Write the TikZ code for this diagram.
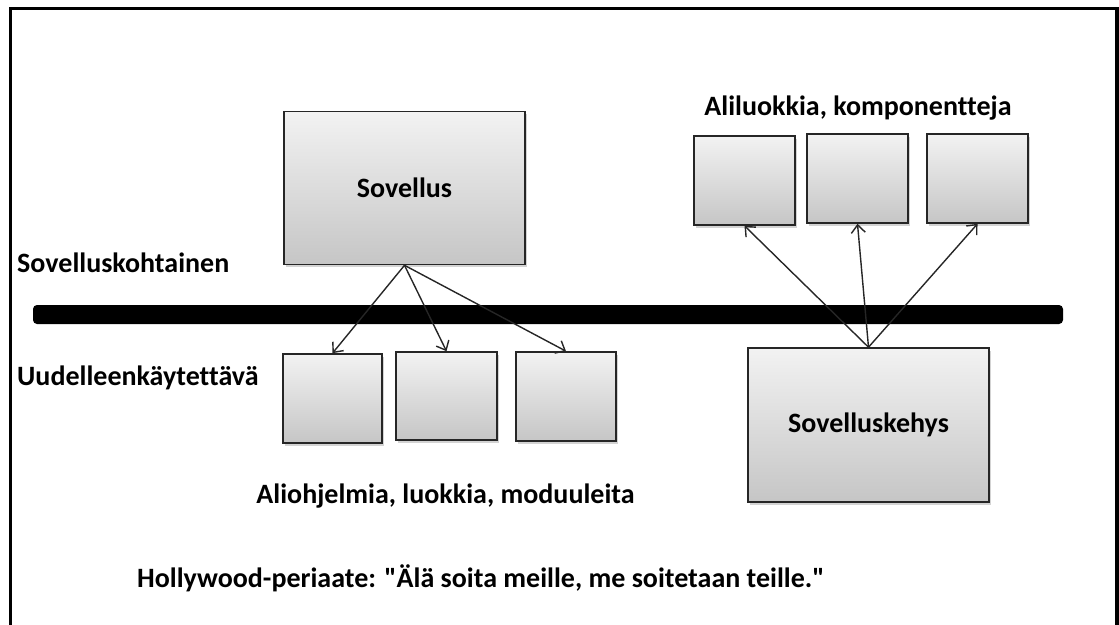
\documentclass[tikz,border=0pt]{standalone}
\usepackage{fontspec}
\setmainfont{Carlito}[Ligatures={TeXOff},RawFeature={-liga;-clig;-calt}]
\usetikzlibrary{arrows.meta,shadows}

\begin{document}
\begin{tikzpicture}[x=1pt,y=-1pt,
  box/.style={draw=black!85,line width=1.6pt,top color=gray!10,bottom color=gray!45,
    drop shadow={shadow xshift=2pt,shadow yshift=-2.5pt,opacity=0.35},inner sep=0pt},
  lbl/.style={font=\fontsize{28}{32}\selectfont\bfseries,inner sep=0pt},
  >={Straight Barb[length=8pt,width=14pt]}]
  \useasboundingbox (0,0) rectangle (1119,624);
  % frame, open at the bottom
  \draw[line width=3.5pt] (10.5,650) -- (10.5,8.5) -- (1117,8.5) -- (1117,650);

  % the dividing bar
  \fill[rounded corners=4pt] (33,305) rectangle (1063,324);

  \node[box,minimum width=241,minimum height=153] (sov)   at (404.5,188) {};
  \node[lbl] at (sov.center) {Sovellus};
  \node[box,minimum width=241,minimum height=154] (kehys) at (868.5,425) {};
  \node[lbl] at (kehys.center) {Sovelluskehys};

  \node[box,minimum width=99,minimum height=89]  (sub1) at (332.5,398.5) {};
  \node[box,minimum width=101,minimum height=88] (sub2) at (446.5,396) {};
  \node[box,minimum width=100,minimum height=89] (sub3) at (566,396.5) {};

  \node[box,minimum width=101,minimum height=89] (lib1) at (744.5,180.5) {};
  \node[box,minimum width=101,minimum height=89] (lib2) at (857.5,178.5) {};
  \node[box,minimum width=101,minimum height=89] (lib3) at (977.5,178.5) {};

  \node[lbl,anchor=west] (spec)  at (17,263) {Sovelluskohtainen};
  \node[lbl,anchor=west] (reuse) at (17,378) {Uudelleenkäytettävä};
  \node[lbl] (subs)  at (445.5,496) {Aliohjelmia, luokkia, moduuleita};
  \node[lbl] (libs)  at (858,108) {Aliluokkia, komponentteja};
  \node[lbl,anchor=west] (motto) at (137,578)
    {Hollywood-periaate: "Älä soita meille, me soitetaan teille."};

 \path[->,line width=1.4pt,black!85]
     (sov.south)   edge (sub1.north)
     (sov.south)   edge (sub2.north)
     (sov.south)   edge (sub3.north)
     (kehys.north) edge (lib1.south)
     (kehys.north) edge (lib2.south)
     (kehys.north) edge (lib3.south)
  ;
\end{tikzpicture}
\end{document}
